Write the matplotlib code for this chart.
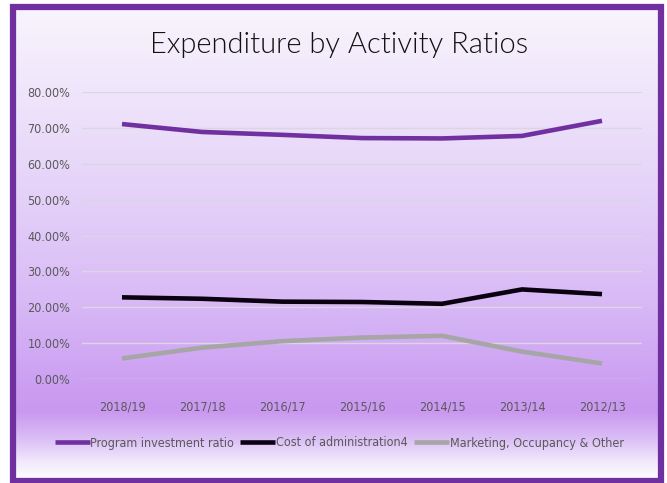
import numpy as np
import matplotlib
matplotlib.use("Agg")
import matplotlib.pyplot as plt
from matplotlib.colors import LinearSegmentedColormap
from matplotlib.patches import Rectangle
from matplotlib.ticker import FuncFormatter

years = ["2018/19", "2017/18", "2016/17", "2015/16", "2014/15", "2013/14", "2012/13"]
program_investment = [0.710, 0.688, 0.680, 0.671, 0.670, 0.677, 0.719]
cost_of_admin = [0.228, 0.224, 0.216, 0.215, 0.210, 0.250, 0.237]
marketing_other = [0.058, 0.088, 0.106, 0.116, 0.121, 0.077, 0.044]
series_names = ["Program investment ratio", "Cost of administration4",
                "Marketing, Occupancy & Other"]
y_ticks = [0.0, 0.1, 0.2, 0.3, 0.4, 0.5, 0.6, 0.7, 0.8]

W, H = 667, 483
fig = plt.figure(figsize=(W / 100, H / 100), dpi=100)
fig.patch.set_facecolor("white")

label_font = {"family": "DejaVu Sans", "stretch": "condensed", "size": 9}

# background gradient of the chart area
bg = fig.add_axes([0, 0, 1, 1], zorder=0)
bg.set_xlim(0, W)
bg.set_ylim(H, 0)
bg.axis("off")
stops = [
    (0.00, "#f8f4fd"),
    (0.18, "#efe5fb"),
    (0.40, "#e4d1f8"),
    (0.62, "#d8baf6"),
    (0.80, "#cc9ff2"),
    (0.86, "#c998f0"),
    (0.92, "#dcc0f6"),
    (0.97, "#f3ebfc"),
    (1.00, "#fcfaff"),
]
cmap = LinearSegmentedColormap.from_list("chartbg", stops)
grad = np.linspace(0, 1, 512).reshape(-1, 1)
bg.imshow(grad, cmap=cmap, aspect="auto", extent=(16, 658, 478, 10),
          interpolation="bilinear")
bg.add_patch(Rectangle((13, 7), 648, 474, fill=False, edgecolor="#7030a0",
                       linewidth=4.5))

# plot area
x0, x1 = 82, 642
y_top, y_bot = 91.7, 379.3
ax = fig.add_axes([x0 / W, (H - y_bot) / H, (x1 - x0) / W, (y_bot - y_top) / H],
                  zorder=1)
ax.patch.set_alpha(0)
xs = np.arange(len(years))
ax.plot(xs, program_investment, color="#7030a0", lw=3.3, solid_capstyle="butt",
        label=series_names[0])
ax.plot(xs, cost_of_admin, color="#0a0010", lw=3.3, solid_capstyle="butt",
        label=series_names[1])
ax.plot(xs, marketing_other, color="#a6a6a6", lw=3.3, solid_capstyle="butt",
        label=series_names[2])

ax.set_xlim(-0.5, len(years) - 0.5)
ax.set_ylim(0, 0.8)
ax.set_yticks(y_ticks)
ax.yaxis.set_major_formatter(FuncFormatter(lambda v, _: f"{v * 100:.2f}%"))
ax.set_xticks(xs)
ax.set_xticklabels(years)
ax.grid(axis="y", color="#dcd6e2", linewidth=1.0)
ax.set_axisbelow(True)
for s in ax.spines.values():
    s.set_visible(False)
ax.tick_params(axis="both", length=0, colors="#595959")
ax.tick_params(axis="y", pad=8.5)
ax.tick_params(axis="x", pad=15)
for lab in ax.get_xticklabels() + ax.get_yticklabels():
    lab.set_family(label_font["family"])
    lab.set_fontstretch(label_font["stretch"])
    lab.set_fontsize(label_font["size"])

fig.text(339 / W, 1 - 45 / H, "Expenditure by Activity Ratios", ha="center",
         va="center", fontsize=21, color="#111111", family="Lato",
         fontweight=300)

handles, labels = ax.get_legend_handles_labels()
leg = fig.legend(handles, labels, loc="center", bbox_to_anchor=(339 / W, 1 - 443 / H),
                 ncol=3, frameon=False, handlelength=2.8, handletextpad=0.05,
                 columnspacing=0.5, prop=label_font)
for t in leg.get_texts():
    t.set_color("#595959")

fig.savefig("out.png", dpi=100, facecolor=fig.get_facecolor())
